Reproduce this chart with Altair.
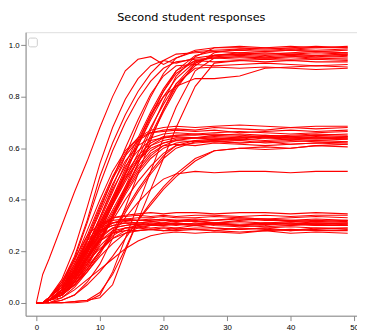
import altair as alt
import pandas as pd

# x positions (time steps) at which each response curve was read
x_knots = [0, 1, 2, 4, 6, 8, 10, 12, 14, 16, 18, 20, 22, 25, 28, 32, 36, 40, 44, 49]

# responses that settle near 0.3
low_group = [
    [0, 0, 0.01, 0.05, 0.12, 0.21, 0.28, 0.31, 0.32, 0.32, 0.325, 0.32, 0.32, 0.325, 0.32, 0.33, 0.325, 0.32, 0.325, 0.32],
    [0, 0, 0.01, 0.04, 0.10, 0.18, 0.25, 0.29, 0.30, 0.305, 0.30, 0.31, 0.305, 0.30, 0.305, 0.30, 0.31, 0.305, 0.30, 0.305],
    [0, 0, 0.02, 0.07, 0.15, 0.24, 0.30, 0.33, 0.34, 0.345, 0.35, 0.345, 0.35, 0.35, 0.345, 0.35, 0.35, 0.345, 0.35, 0.345],
    [0, 0, 0.01, 0.03, 0.08, 0.15, 0.22, 0.27, 0.29, 0.295, 0.29, 0.295, 0.29, 0.30, 0.29, 0.285, 0.29, 0.295, 0.29, 0.29],
    [0, 0, 0.01, 0.04, 0.09, 0.16, 0.21, 0.25, 0.27, 0.28, 0.285, 0.28, 0.28, 0.285, 0.28, 0.275, 0.28, 0.285, 0.28, 0.28],
    [0, 0, 0, 0.02, 0.05, 0.09, 0.13, 0.17, 0.21, 0.24, 0.26, 0.27, 0.275, 0.27, 0.275, 0.27, 0.28, 0.27, 0.275, 0.27],
    [0, 0, 0.01, 0.05, 0.13, 0.23, 0.29, 0.31, 0.315, 0.31, 0.315, 0.31, 0.32, 0.315, 0.31, 0.315, 0.31, 0.305, 0.31, 0.31],
    [0, 0, 0.02, 0.06, 0.14, 0.22, 0.28, 0.30, 0.31, 0.30, 0.31, 0.305, 0.30, 0.31, 0.30, 0.295, 0.30, 0.31, 0.30, 0.30],
    [0, 0, 0.01, 0.04, 0.11, 0.20, 0.27, 0.31, 0.325, 0.33, 0.33, 0.335, 0.33, 0.33, 0.335, 0.33, 0.325, 0.33, 0.335, 0.33],
    [0, 0, 0.01, 0.03, 0.07, 0.13, 0.20, 0.26, 0.29, 0.30, 0.305, 0.30, 0.31, 0.30, 0.305, 0.30, 0.295, 0.30, 0.305, 0.30],
    [0, 0, 0.01, 0.05, 0.12, 0.20, 0.26, 0.29, 0.30, 0.31, 0.315, 0.32, 0.315, 0.32, 0.31, 0.32, 0.325, 0.315, 0.32, 0.315],
    [0, 0, 0.02, 0.08, 0.17, 0.26, 0.31, 0.32, 0.325, 0.32, 0.32, 0.325, 0.32, 0.315, 0.32, 0.325, 0.32, 0.32, 0.315, 0.32],
    [0, 0, 0.01, 0.04, 0.10, 0.18, 0.24, 0.28, 0.29, 0.29, 0.285, 0.29, 0.285, 0.29, 0.29, 0.285, 0.29, 0.28, 0.285, 0.29],
    [0, 0, 0.01, 0.03, 0.08, 0.14, 0.20, 0.25, 0.28, 0.295, 0.30, 0.305, 0.31, 0.305, 0.31, 0.305, 0.31, 0.315, 0.31, 0.31],
    [0, 0, 0.01, 0.05, 0.12, 0.21, 0.29, 0.33, 0.335, 0.34, 0.335, 0.34, 0.335, 0.34, 0.34, 0.335, 0.34, 0.335, 0.34, 0.34],
    [0, 0, 0.01, 0.04, 0.09, 0.17, 0.24, 0.27, 0.28, 0.28, 0.285, 0.28, 0.29, 0.285, 0.28, 0.29, 0.285, 0.28, 0.29, 0.285],
    [0, 0, 0.02, 0.06, 0.13, 0.22, 0.28, 0.30, 0.31, 0.31, 0.305, 0.31, 0.31, 0.305, 0.31, 0.30, 0.31, 0.31, 0.305, 0.31],
    [0, 0, 0.01, 0.03, 0.07, 0.12, 0.18, 0.23, 0.27, 0.29, 0.30, 0.30, 0.305, 0.30, 0.31, 0.30, 0.305, 0.30, 0.31, 0.305],
]

# responses that settle near 0.63
mid_group = [
    [0, 0, 0.01, 0.05, 0.12, 0.22, 0.33, 0.44, 0.53, 0.59, 0.63, 0.64, 0.645, 0.64, 0.65, 0.645, 0.64, 0.645, 0.65, 0.645],
    [0, 0, 0.01, 0.04, 0.10, 0.19, 0.29, 0.39, 0.48, 0.55, 0.60, 0.62, 0.63, 0.625, 0.63, 0.62, 0.625, 0.63, 0.625, 0.62],
    [0, 0, 0.02, 0.06, 0.14, 0.25, 0.37, 0.48, 0.57, 0.63, 0.66, 0.67, 0.675, 0.67, 0.68, 0.675, 0.67, 0.68, 0.675, 0.68],
    [0, 0, 0.01, 0.03, 0.08, 0.15, 0.24, 0.33, 0.42, 0.50, 0.56, 0.60, 0.62, 0.63, 0.635, 0.63, 0.64, 0.635, 0.63, 0.635],
    [0, 0, 0, 0, 0.005, 0.01, 0.02, 0.07, 0.20, 0.32, 0.39, 0.45, 0.50, 0.56, 0.59, 0.60, 0.595, 0.60, 0.61, 0.605],
    [0, 0, 0.01, 0.05, 0.13, 0.24, 0.35, 0.46, 0.55, 0.61, 0.64, 0.655, 0.66, 0.655, 0.66, 0.665, 0.66, 0.655, 0.66, 0.665],
    [0, 0, 0.01, 0.04, 0.11, 0.20, 0.30, 0.40, 0.49, 0.56, 0.61, 0.63, 0.64, 0.64, 0.635, 0.64, 0.645, 0.64, 0.635, 0.64],
    [0, 0, 0.01, 0.03, 0.07, 0.13, 0.20, 0.28, 0.36, 0.44, 0.51, 0.57, 0.61, 0.63, 0.625, 0.63, 0.62, 0.625, 0.63, 0.625],
    [0, 0, 0, 0.01, 0.03, 0.07, 0.12, 0.18, 0.25, 0.32, 0.38, 0.44, 0.49, 0.55, 0.59, 0.60, 0.605, 0.60, 0.61, 0.615],
    [0, 0, 0.02, 0.07, 0.16, 0.28, 0.40, 0.51, 0.59, 0.64, 0.66, 0.665, 0.67, 0.665, 0.67, 0.66, 0.665, 0.67, 0.665, 0.67],
    [0, 0, 0.01, 0.04, 0.10, 0.18, 0.27, 0.36, 0.45, 0.53, 0.59, 0.62, 0.635, 0.64, 0.645, 0.64, 0.65, 0.645, 0.64, 0.645],
    [0, 0, 0.01, 0.05, 0.12, 0.21, 0.31, 0.41, 0.50, 0.57, 0.62, 0.645, 0.65, 0.655, 0.65, 0.655, 0.65, 0.645, 0.65, 0.655],
    [0, 0, 0.01, 0.03, 0.09, 0.17, 0.26, 0.35, 0.44, 0.52, 0.58, 0.61, 0.615, 0.61, 0.62, 0.615, 0.61, 0.615, 0.62, 0.615],
    [0, 0, 0.02, 0.06, 0.15, 0.26, 0.38, 0.49, 0.58, 0.64, 0.67, 0.68, 0.685, 0.68, 0.685, 0.69, 0.685, 0.68, 0.685, 0.685],
    [0, 0, 0.01, 0.04, 0.09, 0.17, 0.25, 0.34, 0.43, 0.51, 0.57, 0.61, 0.63, 0.64, 0.64, 0.635, 0.645, 0.64, 0.645, 0.64],
    [0, 0, 0.01, 0.05, 0.11, 0.20, 0.29, 0.38, 0.47, 0.55, 0.61, 0.64, 0.65, 0.65, 0.655, 0.65, 0.645, 0.65, 0.655, 0.65],
    [0, 0, 0.01, 0.04, 0.10, 0.17, 0.25, 0.32, 0.40, 0.47, 0.53, 0.58, 0.61, 0.62, 0.625, 0.62, 0.625, 0.615, 0.62, 0.625],
    [0, 0, 0.01, 0.02, 0.06, 0.12, 0.19, 0.27, 0.35, 0.43, 0.50, 0.56, 0.60, 0.625, 0.63, 0.635, 0.63, 0.635, 0.64, 0.635],
]

# the single response that settles near 0.51
lone_curve = [0, 0, 0.01, 0.03, 0.07, 0.13, 0.20, 0.27, 0.33, 0.39, 0.44, 0.48, 0.50, 0.51, 0.505, 0.51, 0.51, 0.505, 0.51, 0.51]

# responses that settle near 0.95
high_group = [
    [0, 0.11, 0.17, 0.30, 0.43, 0.55, 0.68, 0.80, 0.90, 0.945, 0.955, 0.925, 0.95, 0.975, 0.98, 0.985, 0.98, 0.985, 0.98, 0.985],
    [0, 0, 0.02, 0.09, 0.21, 0.37, 0.54, 0.68, 0.79, 0.87, 0.92, 0.94, 0.93, 0.95, 0.96, 0.965, 0.96, 0.965, 0.96, 0.965],
    [0, 0, 0.01, 0.05, 0.12, 0.22, 0.33, 0.45, 0.57, 0.69, 0.80, 0.89, 0.95, 0.98, 0.99, 0.99, 0.985, 0.99, 0.995, 0.99],
    [0, 0, 0.01, 0.04, 0.10, 0.19, 0.29, 0.39, 0.50, 0.61, 0.72, 0.82, 0.90, 0.96, 0.975, 0.98, 0.975, 0.98, 0.975, 0.98],
    [0, 0, 0, 0, 0, 0.005, 0.03, 0.12, 0.25, 0.38, 0.51, 0.64, 0.76, 0.90, 0.95, 0.955, 0.95, 0.955, 0.96, 0.955],
    [0, 0, 0.01, 0.03, 0.08, 0.16, 0.25, 0.34, 0.44, 0.54, 0.64, 0.74, 0.83, 0.93, 0.96, 0.965, 0.97, 0.965, 0.97, 0.965],
    [0, 0, 0.02, 0.07, 0.17, 0.31, 0.46, 0.59, 0.70, 0.79, 0.86, 0.91, 0.935, 0.945, 0.95, 0.945, 0.95, 0.955, 0.95, 0.945],
    [0, 0, 0.01, 0.04, 0.11, 0.21, 0.31, 0.41, 0.52, 0.63, 0.73, 0.82, 0.89, 0.94, 0.95, 0.955, 0.95, 0.945, 0.95, 0.95],
    [0, 0, 0.01, 0.05, 0.12, 0.22, 0.32, 0.43, 0.54, 0.64, 0.74, 0.83, 0.90, 0.94, 0.935, 0.94, 0.935, 0.94, 0.935, 0.935],
    [0, 0, 0.01, 0.03, 0.07, 0.14, 0.23, 0.33, 0.43, 0.54, 0.65, 0.75, 0.84, 0.92, 0.97, 0.985, 0.99, 0.985, 0.99, 0.99],
    [0, 0, 0.01, 0.04, 0.09, 0.17, 0.27, 0.38, 0.50, 0.62, 0.73, 0.80, 0.84, 0.87, 0.87, 0.88, 0.91, 0.915, 0.92, 0.915],
    [0, 0, 0.01, 0.05, 0.13, 0.24, 0.36, 0.48, 0.60, 0.71, 0.81, 0.88, 0.92, 0.925, 0.92, 0.925, 0.93, 0.925, 0.92, 0.925],
    [0, 0, 0, 0.01, 0.03, 0.08, 0.15, 0.25, 0.37, 0.50, 0.63, 0.75, 0.85, 0.93, 0.96, 0.97, 0.965, 0.97, 0.975, 0.97],
    [0, 0, 0.01, 0.04, 0.10, 0.18, 0.28, 0.38, 0.48, 0.58, 0.68, 0.77, 0.85, 0.91, 0.915, 0.91, 0.915, 0.91, 0.905, 0.91],
    [0, 0, 0.02, 0.08, 0.18, 0.32, 0.49, 0.62, 0.73, 0.82, 0.89, 0.94, 0.965, 0.97, 0.975, 0.97, 0.975, 0.98, 0.975, 0.97],
    [0, 0, 0.01, 0.03, 0.08, 0.15, 0.24, 0.34, 0.45, 0.56, 0.67, 0.78, 0.88, 0.955, 0.99, 0.995, 0.99, 0.995, 0.99, 0.995],
    [0, 0, 0, 0, 0.005, 0.01, 0.04, 0.11, 0.21, 0.32, 0.44, 0.56, 0.68, 0.84, 0.93, 0.94, 0.945, 0.94, 0.945, 0.94],
    [0, 0, 0.01, 0.05, 0.11, 0.20, 0.30, 0.40, 0.51, 0.61, 0.71, 0.80, 0.87, 0.935, 0.955, 0.96, 0.955, 0.96, 0.955, 0.96],
]

x_ticks = [0, 10, 20, 30, 40, 50]
y_ticks = [0.0, 0.2, 0.4, 0.6, 0.8, 1.0]
title_text = "Second student responses"

curves = low_group + mid_group + [lone_curve] + high_group
rows = []
for i, ys in enumerate(curves):
    for xv, yv in zip(x_knots, ys):
        rows.append({"curve": i, "step": xv, "response": yv})
df = pd.DataFrame(rows)

font = "DejaVu Sans"

lines = alt.Chart(df).mark_line(color="#ff0000", strokeWidth=1.1, clip=True).encode(
    x=alt.X("step:Q",
            scale=alt.Scale(domain=[-1.69, 50.46], nice=False, zero=False),
            axis=alt.Axis(values=x_ticks, format="d", title=None, grid=False,
                          labelFontSize=8, labelPadding=3)),
    y=alt.Y("response:Q",
            scale=alt.Scale(domain=[-0.05, 1.05], nice=False, zero=False),
            axis=alt.Axis(values=y_ticks, format=".1f", title=None, grid=False,
                          labelFontSize=8, labelPadding=1.5)),
    detail="curve:N",
)

legend_box = alt.Chart(pd.DataFrame({"k": [0]})).mark_rect(
    fill="white", stroke="#cccccc", strokeWidth=1, cornerRadius=2
).encode(
    x=alt.value(3), x2=alt.value(12), y=alt.value(6), y2=alt.value(15)
)

chart = alt.layer(lines, legend_box).properties(
    width=339,
    height=290,
    autosize=alt.AutoSizeParams(type="none"),
    padding={"left": 18, "top": 21, "right": 0, "bottom": 17},
    title=alt.TitleParams(title_text, fontSize=11.5, font=font, fontWeight="normal",
                          color="black", anchor="middle", offset=0, baseline="alphabetic"),
).configure_view(
    stroke="#222222", strokeWidth=1
).configure_axis(
    grid=False,
    domainColor="#222222",
    domainWidth=1,
    tickColor="#222222",
    tickSize=3.5,
    tickWidth=1,
    labelFont=font,
    labelColor="black",
).configure(background="white")

chart.save("out.html", embed_options={"renderer": "svg", "actions": False})
